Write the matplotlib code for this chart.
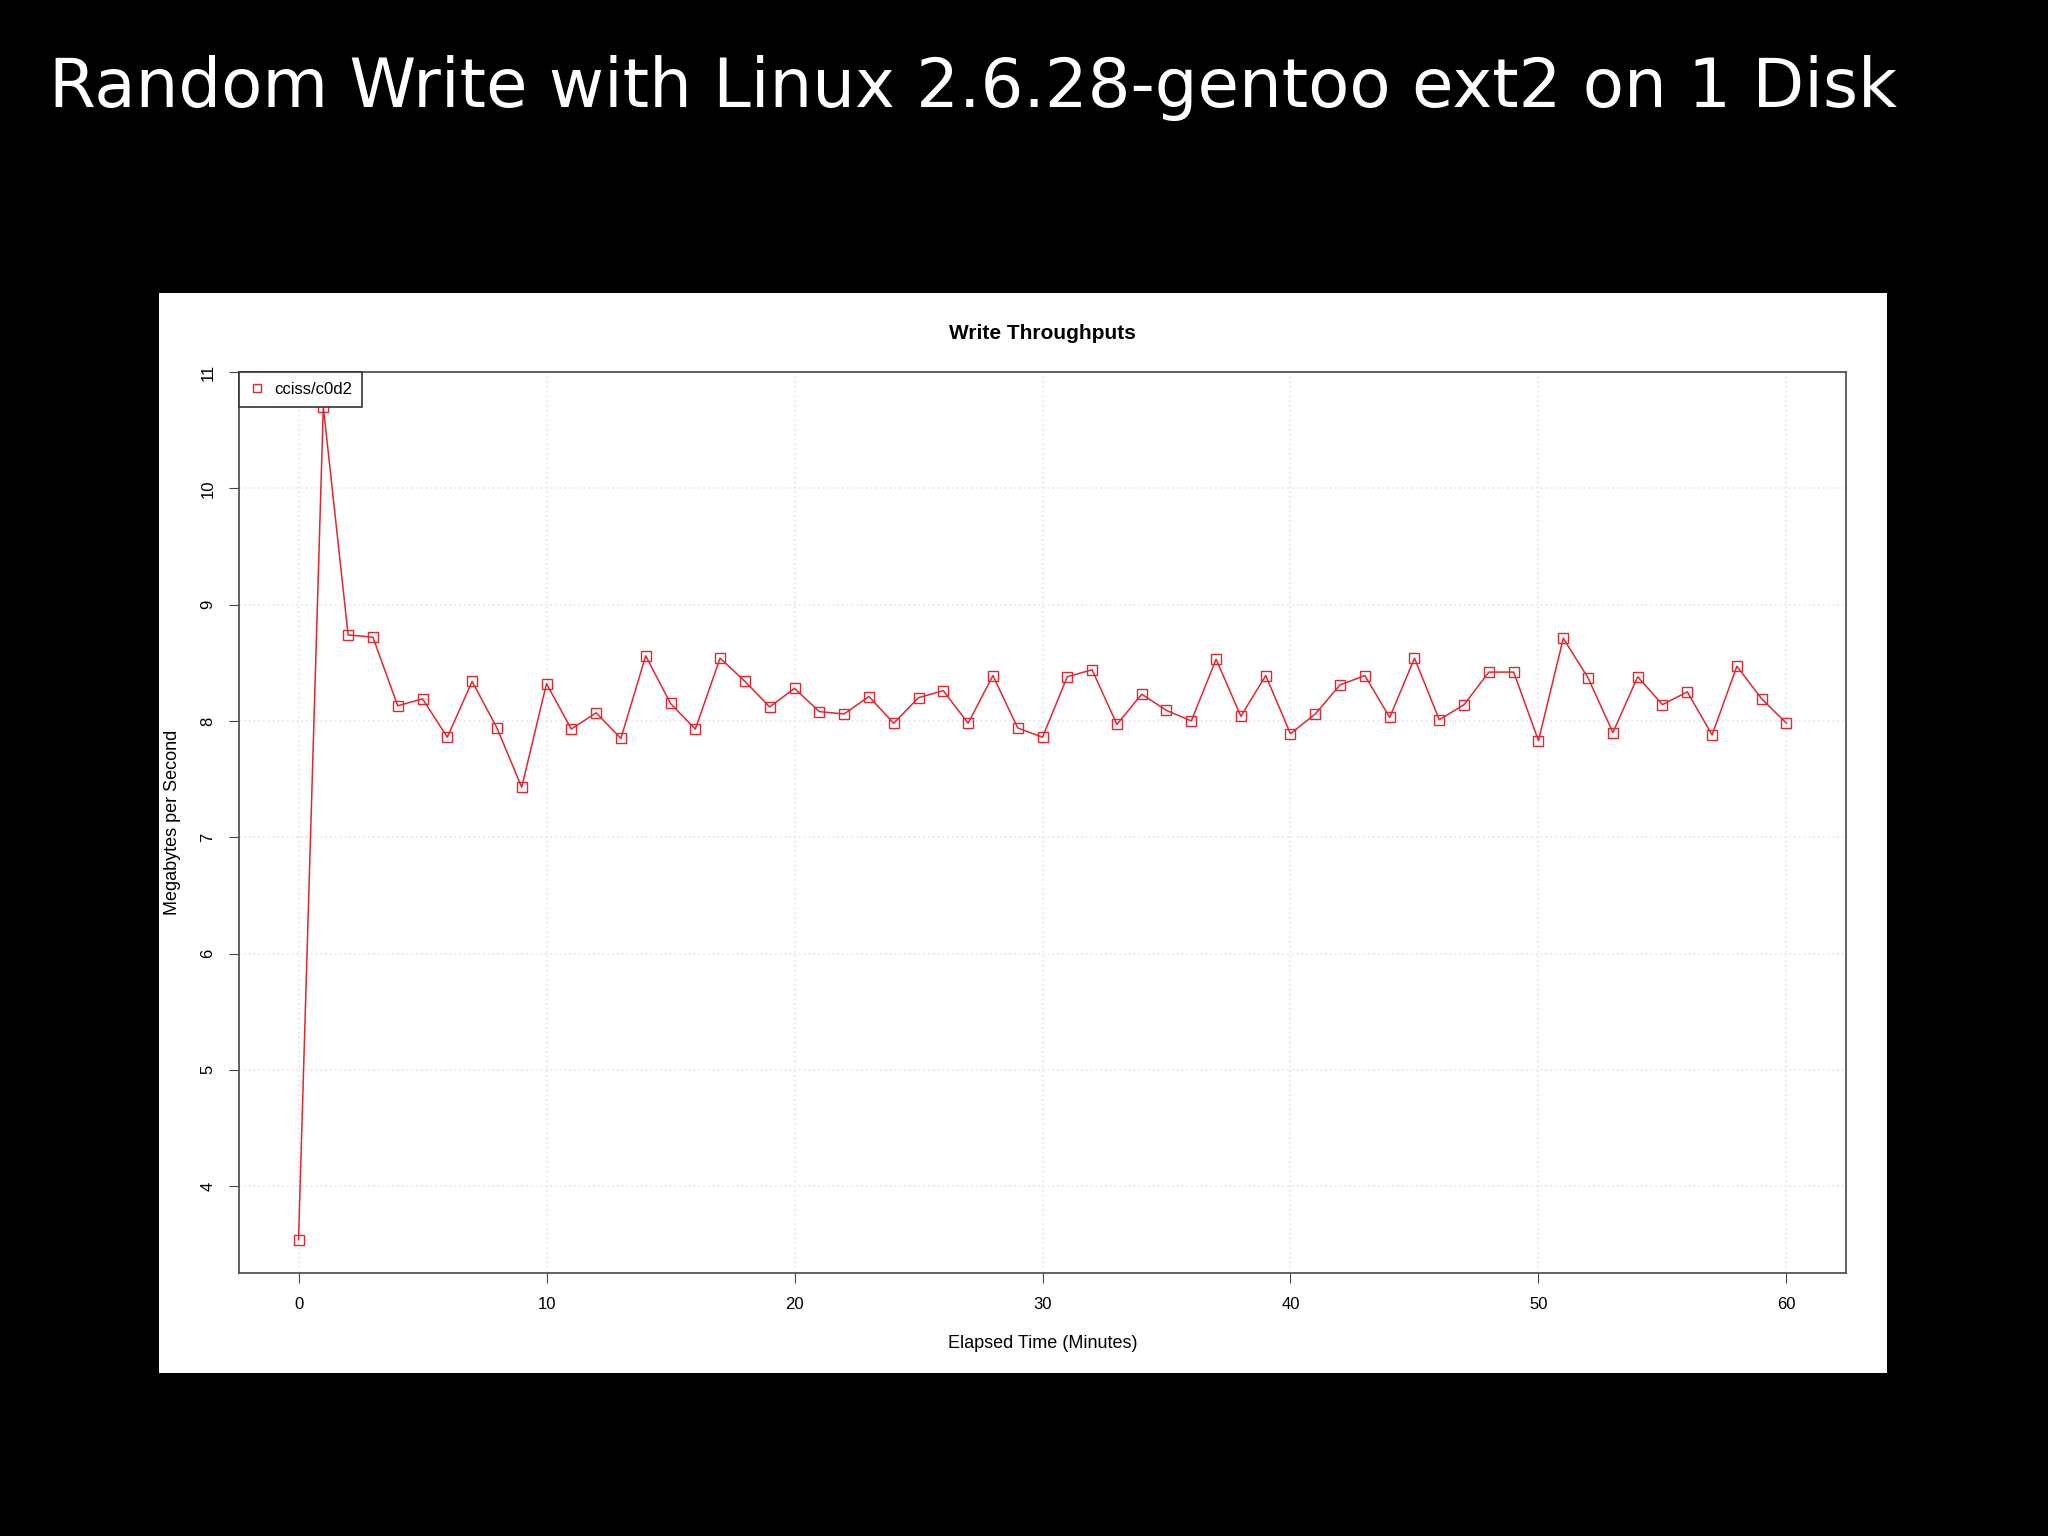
import matplotlib
matplotlib.use("Agg")
from matplotlib import pyplot as plt
from matplotlib.patches import Rectangle

# data
minutes = list(range(0, 61))
throughput = [3.54, 10.70, 8.74, 8.72, 8.13, 8.19, 7.86, 8.34, 7.94, 7.43,
              8.32, 7.93, 8.07, 7.85, 8.56, 8.15, 7.93, 8.54, 8.34, 8.12,
              8.28, 8.08, 8.06, 8.21, 7.98, 8.20, 8.26, 7.98, 8.39, 7.94,
              7.86, 8.38, 8.44, 7.97, 8.23, 8.09, 8.00, 8.53, 8.04, 8.39,
              7.89, 8.06, 8.31, 8.39, 8.03, 8.54, 8.01, 8.14, 8.42, 8.42,
              7.83, 8.71, 8.37, 7.90, 8.38, 8.14, 8.25, 7.88, 8.47, 8.19,
              7.98]
x_ticks = [0, 10, 20, 30, 40, 50, 60]
y_ticks = [4, 5, 6, 7, 8, 9, 10, 11]
series_name = "cciss/c0d2"

# R-plot text looks like Helvetica/Arial
plt.rcParams['font.family'] = ['Liberation Sans', 'DejaVu Sans']

fig = plt.figure(figsize=(20.48, 15.36), dpi=100, facecolor="black")

# slide title
fig.text(0.024, 0.943, "Random Write with Linux 2.6.28-gentoo ext2 on 1 Disk",
         color="white", fontsize=48.5, ha="left", va="center", family="DejaVu Sans")

# white panel holding the R plot (behind the axes)
fig.patches.append(Rectangle((159 / 2048, 1 - 1373 / 1536), (1887 - 159) / 2048,
                             (1373 - 293) / 1536, transform=fig.transFigure,
                             facecolor="white", edgecolor="none", zorder=-5))

ax = fig.add_axes([239 / 2048, 1 - 1273 / 1536, (1846 - 239) / 2048, (1273 - 372) / 1536])
ax.set_facecolor("white")

ax.plot(minutes, throughput, color="#e3262f", lw=1.1, marker="s", markersize=6.8,
        markerfacecolor="none", markeredgecolor="#e3262f", markeredgewidth=1.0,
        label=series_name)
ax.margins(x=0.04, y=0.04)

ax.set_xticks(x_ticks)
ax.set_yticks(y_ticks)
ax.grid(True, color="#efe2f0", linestyle=":", linewidth=1.3)
ax.set_axisbelow(True)
for s in ax.spines.values():
    s.set_color("#555555")
    s.set_linewidth(1.3)
ax.tick_params(direction="out", length=7, color="#444444", labelsize=12, pad=10)
for lab in ax.get_yticklabels():
    lab.set_rotation(90)
    lab.set_va("center")

ax.set_xlabel("Elapsed Time (Minutes)", fontsize=13, labelpad=17)
ax.set_ylabel("Megabytes per Second", fontsize=13, labelpad=14)
ax.set_title("Write Throughputs", fontsize=15, fontweight="bold", pad=24)

leg = ax.legend(loc="upper left", borderaxespad=0, fontsize=12, fancybox=False,
                framealpha=1, edgecolor="#333333", handlelength=0.9,
                handletextpad=0.6, borderpad=0.6, markerscale=0.85)
leg.legend_handles[0].set_linestyle("none")
leg.get_frame().set_linewidth(1.2)

plt.savefig("out.png", dpi=100, facecolor="black")
